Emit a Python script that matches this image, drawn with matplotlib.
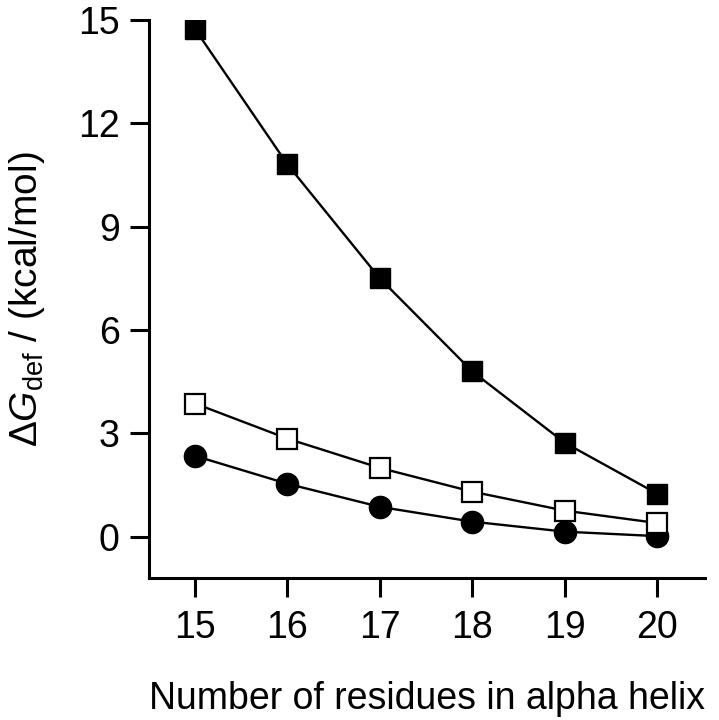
import matplotlib
matplotlib.use("Agg")
import matplotlib.pyplot as plt

plt.rcParams['font.family'] = ['Liberation Sans', 'DejaVu Sans']
plt.rcParams['mathtext.fontset'] = 'custom'
plt.rcParams['mathtext.rm'] = 'Liberation Sans'
plt.rcParams['mathtext.it'] = 'Liberation Sans:italic'

residues = [15, 16, 17, 18, 19, 20]
filled_sq = [14.74, 10.81, 7.5, 4.8, 2.73, 1.25]
open_sq = [3.87, 2.85, 2.0, 1.31, 0.76, 0.4]
filled_circ = [2.35, 1.54, 0.87, 0.44, 0.15, 0.02]

yticks = [0, 3, 6, 9, 12, 15]

fig = plt.figure(figsize=(7.19, 7.2), dpi=100)
ax = fig.add_axes([0.207, 0.197, 0.774, 0.775])

ax.plot(residues, filled_circ, color='black', lw=1.7, marker='o', ms=16,
        mfc='black', mec='black', zorder=3)
ax.plot(residues, open_sq, color='black', lw=1.7, marker='s', ms=14,
        mfc='white', mec='black', mew=1.6, zorder=4)
ax.plot(residues, filled_sq, color='black', lw=1.7, marker='s', ms=14,
        mfc='black', mec='black', zorder=5)

ax.set_xlim(14.5, 20.52)
ax.set_ylim(-1.2, 15)
ax.set_xticks(residues)
ax.set_yticks(yticks)

for s in ['top', 'right']:
    ax.spines[s].set_visible(False)
for s in ['left', 'bottom']:
    ax.spines[s].set_linewidth(2.2)

ax.tick_params(direction='out', length=14, width=2.2, labelsize=27, pad=7)
ax.tick_params(axis='x', pad=9)

ax.set_xlabel('Number of residues in alpha helix', fontsize=27, labelpad=25)
ax.set_ylabel(r'$\Delta\mathit{G}_{\mathrm{def}}$ / (kcal/mol)', fontsize=28, labelpad=22)

fig.savefig('out.png', dpi=100)
